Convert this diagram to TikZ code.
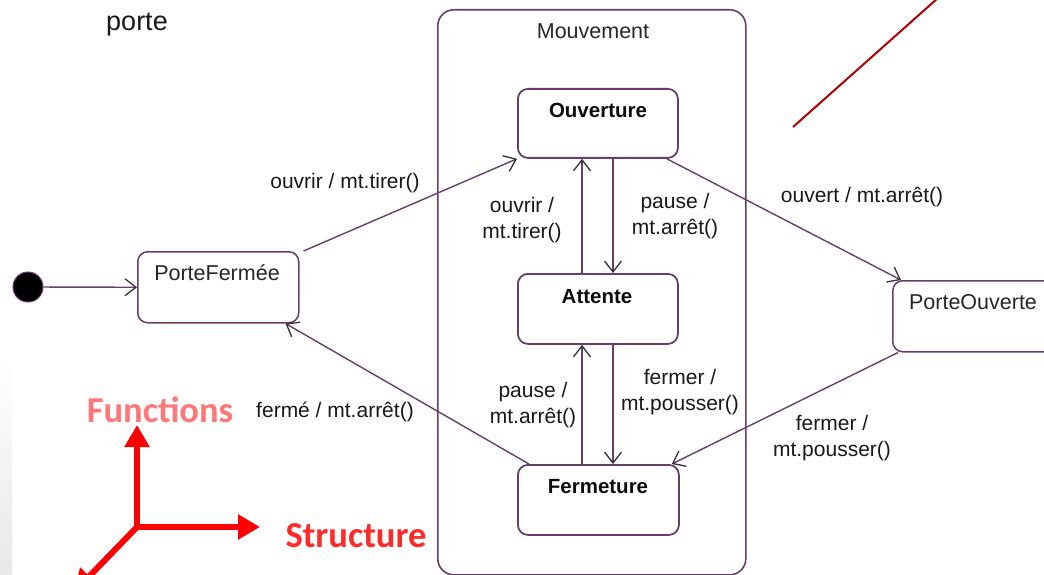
\documentclass[tikz,border=0pt]{standalone}
\usepackage{fontspec}
\setmainfont{Liberation Sans}
\newfontfamily\calib{Carlito}
\usetikzlibrary{arrows.meta}
\definecolor{umlline}{HTML}{6A3D6E}
\definecolor{axisred}{HTML}{FF0000}
\definecolor{funcred}{HTML}{FF7777}
\definecolor{structred}{HTML}{FF2B2B}
\definecolor{notered}{HTML}{B00000}
\begin{document}
\begin{tikzpicture}[x=1pt,y=-1pt,
  statebox/.style={draw=umlline, line width=1.8pt, rounded corners=10pt, inner sep=0pt, fill=white, anchor=north west},
  conn/.style={draw=umlline, line width=1.4pt, -{Straight Barb[length=11pt,width=17pt,color=black!80,line width=1.3pt]}},
  lbl/.style={font=\fontsize{21}{26}\selectfont, text=black!90, align=center, inner sep=0pt},
  sname/.style={font=\bfseries\fontsize{20.5}{24}\selectfont, text=black!95, inner sep=0pt},
  pname/.style={font=\fontsize{21.5}{26}\selectfont, text=black!85, inner sep=0pt},
  axis/.style={draw=axisred, line width=6pt, -{Triangle[length=22pt,width=24pt]}},
]
\useasboundingbox (0,0) rectangle (1044,575);
\clip (0,0) rectangle (1044,575);
\fill[white] (0,0) rectangle (1044,575);

% faint grey edge on the left
\shade[top color=white, bottom color=black!9] (0,360) rectangle (12,575);

% diagram title
\node[font=\fontsize{27}{32}\selectfont, text=black!90, inner sep=0pt] (title) at (137,25) {porte};

% composite state
\node[statebox, line width=1.6pt, rounded corners=16pt, minimum width=308pt, minimum height=565pt] (mv) at (437,9) {};
\node[pname] (mvname) at (593,31) {Mouvement};

% simple states
\node[statebox, line width=1.5pt, minimum width=161pt, minimum height=71pt] (pf) at (137,251) {};
\node[pname] (pfname) at (217,273) {PorteFermée};

\node[statebox, line width=1.5pt, minimum width=170pt, minimum height=71pt] (po) at (892,280) {};
\node[pname] (poname) at (973,302) {PorteOuverte};

\node[statebox, minimum width=160pt, minimum height=69pt] (ouv) at (517,88) {};
\node[sname] (ouvname) at (598,110) {Ouverture};

\node[statebox, minimum width=160pt, minimum height=70pt] (att) at (517,273) {};
\node[sname] (attname) at (597,297) {Attente};

\node[statebox, minimum width=161pt, minimum height=70pt] (fer) at (517,464) {};
\node[sname] (fername) at (598,487) {Fermeture};

% initial pseudo-state
\node[circle, fill=black, draw=umlline, line width=1pt, minimum size=30pt, inner sep=0pt] (init) at (28,287) {};

% transitions
\draw[conn] (init) -- (pf.west);
\draw[conn] ([xshift=4pt]pf.north east) -- (ouv.south west);
\draw[conn] ([xshift=96pt]ouv.south west) -- ([xshift=96pt]att.north west);
\draw[conn] ([xshift=65pt]att.north west) -- ([xshift=65pt]ouv.south west);
\draw[conn] ([xshift=96pt]att.south west) -- ([xshift=96pt]fer.north west);
\draw[conn] ([xshift=65pt]fer.north west) -- ([xshift=65pt]att.south west);
\draw[conn] ([xshift=-12pt]ouv.south east) -- ([xshift=9pt]po.north west);
\draw[conn] ([xshift=6pt]po.south west) -- ([xshift=-8pt]fer.north east);
\draw[conn] ([xshift=12pt]fer.north west) -- ([xshift=-14pt]pf.south east);

% transition labels
\node[lbl] (l1) at (345,183) {ouvrir / mt.tirer()};
\node[lbl] (l2) at (522,220) {ouvrir /\\mt.tirer()};
\node[lbl] (l3) at (675,216) {pause /\\mt.arrêt()};
\node[lbl] (l4) at (680,392) {fermer /\\mt.pousser()};
\node[lbl] (l5) at (533,405) {pause /\\mt.arrêt()};
\node[lbl] (l6) at (862,197) {ouvert / mt.arrêt()};
\node[lbl] (l7) at (832,438) {fermer /\\mt.pousser()};
\node[lbl] (l8) at (335,412) {fermé / mt.arrêt()};

% red annotation stroke
\draw[notered, line width=2pt] (793,127) -- (938,-2);

% axes
\coordinate (o) at (137,527);
\draw[axis] (o) -- (137,425);
\draw[axis] (o) -- (260,527);
\draw[axis] (o) -- (74,592);
\node[font=\calib\bfseries\fontsize{36.5}{40}\selectfont, text=funcred, inner sep=0pt] (func) at (160,410) {Functions};
\node[font=\calib\bfseries\fontsize{36.5}{40}\selectfont, text=structred, inner sep=0pt] (struct) at (356,536) {Structure};
\end{tikzpicture}
\end{document}
